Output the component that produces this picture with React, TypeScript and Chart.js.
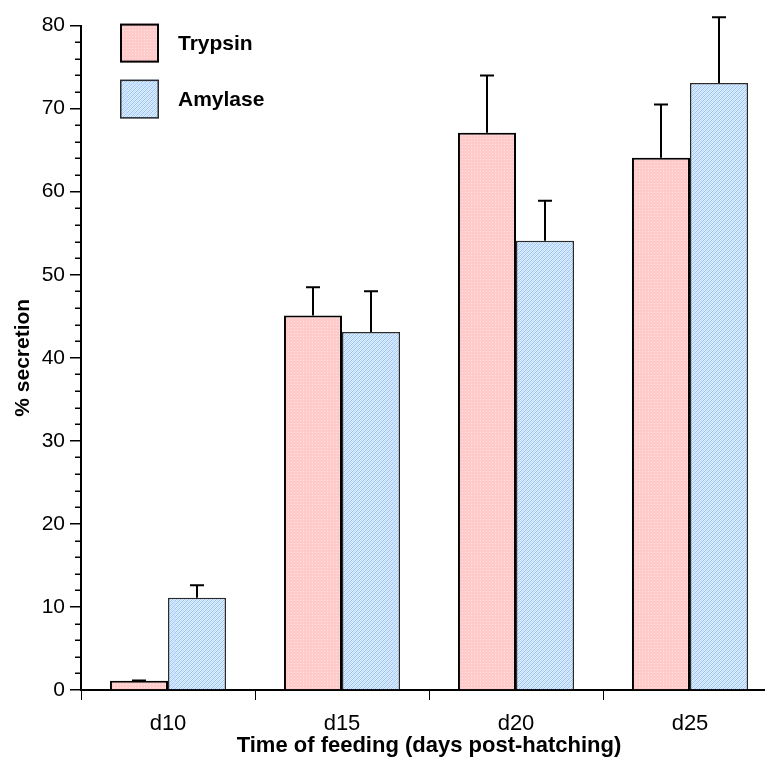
import React, { useEffect, useRef } from 'react';
import { Chart, registerables } from 'chart.js';

Chart.register(...registerables);

const categories = ['d10', 'd15', 'd20', 'd25'];
const seriesNames = ['Trypsin', 'Amylase'];
const trypsinValues = [1.1, 45.1, 67.1, 64.1];
const trypsinUpper = [1.15, 48.5, 74.0, 70.5];
const amylaseValues = [11.1, 43.1, 54.1, 73.1];
const amylaseUpper = [12.6, 48.0, 58.9, 81.0];
const yTickStep = 10;
const yMinorStep = 2;
const yMax = 80;

const FONT = "'Liberation Sans', Arial, Helvetica, sans-serif";

function makePattern(kind: 'dots' | 'hatch'): CanvasPattern | string {
  const c = document.createElement('canvas');
  c.width = kind === 'dots' ? 3 : 4;
  c.height = kind === 'dots' ? 3 : 4;
  const ctx = c.getContext('2d');
  if (!ctx) return kind === 'dots' ? '#ffd0d0' : '#d0e4fb';
  if (kind === 'dots') {
    ctx.fillStyle = 'rgb(255,202,202)';
    ctx.fillRect(0, 0, 3, 3);
    ctx.fillStyle = 'rgb(255,228,228)';
    ctx.fillRect(1, 1, 1, 1);
  } else {
    ctx.fillStyle = 'rgb(222,237,255)';
    ctx.fillRect(0, 0, 4, 4);
    ctx.fillStyle = 'rgb(150,196,250)';
    for (let i = 0; i < 4; i++) ctx.fillRect(3 - i, i, 1, 1);
    ctx.fillStyle = 'rgb(190,218,253)';
    for (let i = 0; i < 4; i++) ctx.fillRect((5 - i) % 4, i, 1, 1);
  }
  const p = ctx.createPattern(c, 'repeat');
  return p || '#ddd';
}

const upperByDataset = [trypsinUpper, amylaseUpper];

const errorBarPlugin = {
  id: 'errorBars',
  afterDatasetsDraw(chart: any) {
    const ctx = chart.ctx;
    const yScale = chart.scales.y;
    ctx.save();
    ctx.strokeStyle = '#000';
    ctx.lineWidth = 2;
    chart.data.datasets.forEach((_ds: any, di: number) => {
      const meta = chart.getDatasetMeta(di);
      meta.data.forEach((bar: any, i: number) => {
        const up = upperByDataset[di][i];
        const yTop = yScale.getPixelForValue(up);
        const yBar = bar.y;
        const x = Math.round(bar.x);
        ctx.beginPath();
        ctx.moveTo(x, yBar);
        ctx.lineTo(x, yTop);
        ctx.moveTo(x - 7, yTop);
        ctx.lineTo(x + 7, yTop);
        ctx.stroke();
      });
    });
    ctx.restore();
  },
};

const minorTickPlugin = {
  id: 'minorTicks',
  afterDraw(chart: any) {
    const ctx = chart.ctx;
    const yScale = chart.scales.y;
    const x0 = chart.chartArea.left;
    ctx.save();
    ctx.strokeStyle = '#000';
    ctx.lineWidth = 1.5;
    for (let v = yMinorStep; v < yMax; v += yMinorStep) {
      if (v % yTickStep === 0) continue;
      const py = Math.round(yScale.getPixelForValue(v)) + 0.25;
      ctx.beginPath();
      ctx.moveTo(x0 - 6, py);
      ctx.lineTo(x0, py);
      ctx.stroke();
    }
    ctx.restore();
  },
};

const legendPlugin = {
  id: 'customLegend',
  afterDraw(chart: any) {
    const ctx = chart.ctx;
    const area = chart.chartArea;
    ctx.save();
    chart.data.datasets.forEach((ds: any, i: number) => {
      const bx = area.left + 39;
      const by = area.top - 2 + i * 56;
      const size = 39;
      ctx.fillStyle = ds.backgroundColor;
      ctx.fillRect(bx, by, size, size);
      ctx.strokeStyle = ds.borderColor;
      ctx.lineWidth = ds.borderWidth;
      ctx.strokeRect(bx + ds.borderWidth / 2, by + ds.borderWidth / 2, size - ds.borderWidth, size - ds.borderWidth);
      ctx.fillStyle = '#000';
      ctx.font = `bold 21px ${FONT}`;
      ctx.textBaseline = 'middle';
      ctx.textAlign = 'left';
      ctx.fillText(ds.label, bx + 58, by + size / 2 + 1);
    });
    ctx.restore();
  },
};

export default function App() {
  const ref = useRef<HTMLCanvasElement | null>(null);

  useEffect(() => {
    document.body.style.overflow = 'hidden';
    if (!ref.current) return;
    const chart = new Chart(ref.current, {
      type: 'bar',
      data: {
        labels: categories,
        datasets: [
          {
            label: seriesNames[0],
            data: trypsinValues,
            backgroundColor: makePattern('dots') as any,
            borderColor: '#000',
            borderWidth: 2,
            categoryPercentage: 0.667,
            barPercentage: 1.0,
          },
          {
            label: seriesNames[1],
            data: amylaseValues,
            backgroundColor: makePattern('hatch') as any,
            borderColor: '#2a2a2a',
            borderWidth: 1.5,
            categoryPercentage: 0.667,
            barPercentage: 1.0,
          },
        ],
      },
      options: {
        animation: false,
        responsive: false,
        devicePixelRatio: 1,
        layout: { padding: { top: 16, right: 11, left: 0, bottom: 0 } },
        plugins: {
          legend: { display: false },
          tooltip: { enabled: false },
        },
        scales: {
          x: {
            type: 'category',
            offset: true,
            grid: {
              offset: true,
              drawOnChartArea: false,
              drawTicks: true,
              tickLength: 10,
              color: '#000',
              lineWidth: 1,
            },
            border: { display: true, color: '#000', width: 2 },
            ticks: {
              color: '#000',
              font: { family: FONT, size: 22 },
              padding: 11,
              maxRotation: 0,
            },
            title: {
              display: true,
              text: 'Time of feeding (days post-hatching)',
              color: '#000',
              font: { family: FONT, size: 22, weight: 'bold', lineHeight: 1.2 },
              padding: { top: 0, bottom: 5 },
            },
            afterFit: (s: any) => {
              s.height = 74;
            },
          },
          y: {
            min: 0,
            max: yMax,
            grid: {
              drawOnChartArea: false,
              drawTicks: true,
              tickLength: 11,
              color: '#000',
              lineWidth: 1.5,
            },
            border: { display: true, color: '#000', width: 2 },
            ticks: {
              stepSize: yTickStep,
              color: '#000',
              font: { family: FONT, size: 21 },
              padding: 5,
            },
            title: {
              display: true,
              text: '% secretion',
              color: '#000',
              font: { family: FONT, size: 21, weight: 'bold', lineHeight: 1.2 },
              padding: { top: 3, bottom: 0 },
            },
            afterFit: (s: any) => {
              s.width = 73;
            },
          },
        },
      },
      plugins: [errorBarPlugin, minorTickPlugin, legendPlugin],
    } as any);
    return () => chart.destroy();
  }, []);

  return (
    <div style={{ width: 765, height: 756, overflow: 'hidden' }}>
      <canvas ref={ref} width={780} height={756} style={{ display: 'block' }} />
    </div>
  );
}
